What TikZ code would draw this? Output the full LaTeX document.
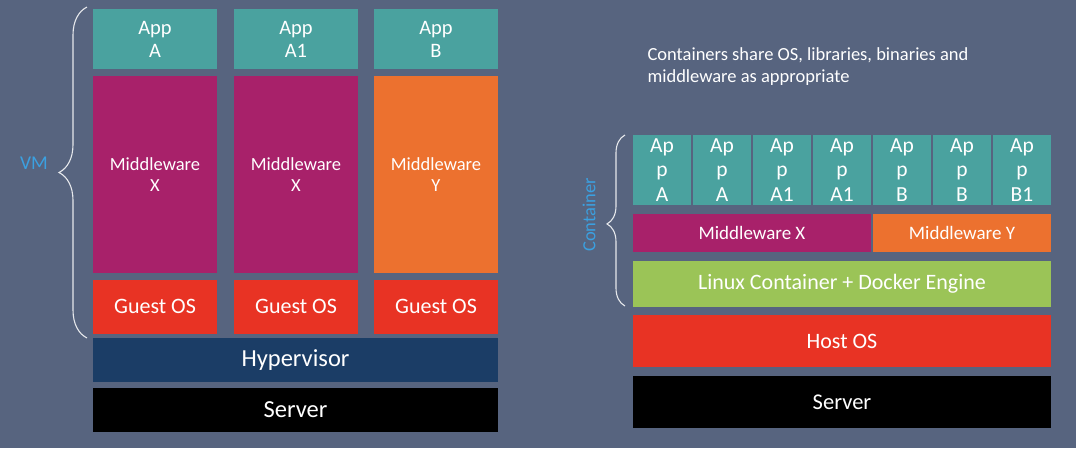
\documentclass[tikz,border=0pt]{standalone}
\usepackage{fontspec}
\setmainfont{Carlito}
\usepackage{tikz}
\usetikzlibrary{positioning}
\usetikzlibrary{decorations.pathreplacing}
\definecolor{slate}{HTML}{57647F}
\definecolor{appteal}{HTML}{4AA29F}
\definecolor{mwpurple}{HTML}{A8216A}
\definecolor{mworange}{HTML}{EC712F}
\definecolor{osred}{HTML}{E83324}
\definecolor{hypnavy}{HTML}{1B3D66}
\definecolor{dockgreen}{HTML}{9BC457}
\definecolor{labelblue}{HTML}{3BA0E0}

\begin{document}
\begin{tikzpicture}[
            x = 1pt, y = -1pt, % pixel grid, origin top left
            node distance = 7pt,
            box/.style = {inner sep = 0pt, text = white, align = center},
            curly/.style = {draw = white!85!slate, line width = 1.1pt,
                decorate, decoration = {brace, aspect = 0.5}}
        ]

        \tikzstyle{app}=[box, fill = appteal, minimum width = 124pt, minimum height = 60pt,
            font = \fontsize{20.5}{23}\selectfont]
        \tikzstyle{mw}=[box, minimum width = 124pt, minimum height = 197pt,
            font = \fontsize{18.5}{21}\selectfont]
        \tikzstyle{guest}=[box, fill = osred, minimum width = 124pt, minimum height = 54pt,
            font = \fontsize{22}{26}\selectfont]
        \tikzstyle{layer}=[box, minimum width = 418pt]

        \fill[slate] (0,0) rectangle (1076,448);
        \useasboundingbox (0,0) rectangle (1076,448);

        % virtual machines
        \node[app] (appA) at (155,39) {App\\A};
        \node[app] (appA1) at (296,39) {App\\A1};
        \node[app] (appB) at (436,39) {App\\B};

        \node[mw, fill = mwpurple] (mwA) [below = of appA] {Middleware\\X};
        \node[mw, fill = mwpurple] (mwA1) [below = of appA1] {Middleware\\X};
        \node[mw, fill = mworange] (mwB) [below = of appB] {Middleware\\Y};

        \node[guest] (guestA) [below = 6pt of mwA] {Guest OS};
        \node[guest] (guestA1) [below = 6pt of mwA1] {Guest OS};
        \node[guest] (guestB) [below = 6pt of mwB] {Guest OS};

        \node[box, fill = hypnavy, minimum width = 405pt, minimum height = 44pt,
            font = \fontsize{24.5}{28}\selectfont] (hyp) at (295.5,360) {Hypervisor};
        \node[box, fill = black, minimum width = 405pt, minimum height = 44pt,
            font = \fontsize{24.5}{28}\selectfont] (server) at (295.5,410) {Server};

        \coordinate (vmlow) at (87,338);
        \coordinate (vmtop) at (87,7);
        \draw[curly, decoration = {amplitude = 28pt}] (vmlow) -- (vmtop);
        \node[text = labelblue, font = \fontsize{19.5}{22}\selectfont] (vm) at (34,163) {VM};

        % containers
        \node[text = white, align = left, anchor = west,
            font = \fontsize{18.5}{22}\selectfont] (note) at (644,67)
            {Containers share OS, libraries, binaries and\\middleware as appropriate};

        \foreach \lbl [count=\i] in {A,A,A1,A1,B,B,B1}
            \node[box, fill = appteal, minimum width = 58pt, minimum height = 70pt,
                font = \fontsize{21.5}{24.5}\selectfont] (capp\i) at (602+60*\i,170) {Ap\\p\\\lbl};

        \node[box, fill = mwpurple, minimum width = 238pt, minimum height = 38pt,
            font = \fontsize{19}{22}\selectfont] (mwX) at (752,233) {Middleware X};
        \node[box, fill = mworange, minimum width = 178pt, minimum height = 38pt,
            font = \fontsize{19}{22}\selectfont] (mwY) at (962,233) {Middleware Y};

        \node[layer, fill = dockgreen, minimum height = 46pt,
            font = \fontsize{22}{25}\selectfont] (docker) at (842,284) {Linux Container + Docker Engine};
        \node[layer, fill = osred, minimum height = 52pt,
            font = \fontsize{22}{25}\selectfont] (host) [below = 8pt of docker] {Host OS};
        \node[layer, fill = black, minimum height = 52pt,
            font = \fontsize{22.5}{26}\selectfont] (server2) [below = 8pt of host] {Server};

        \coordinate (ctlow) at (625,306);
        \coordinate (cttop) at (625,135);
        \draw[curly, decoration = {amplitude = 18pt, aspect = 0.48}] (ctlow) -- (cttop);
        \node[text = labelblue, rotate = 90, font = \fontsize{18.5}{21}\selectfont] (ct) at (589,215) {Container};

\end{tikzpicture}
\end{document}
